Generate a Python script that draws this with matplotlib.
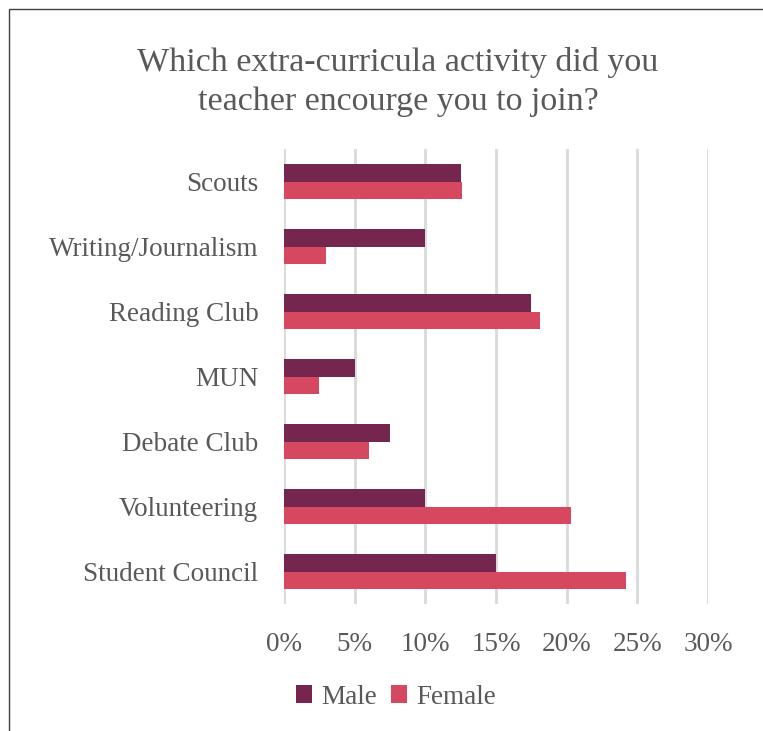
import matplotlib
matplotlib.use("Agg")
import matplotlib.pyplot as plt
import numpy as np
from matplotlib.patches import Rectangle

categories = ["Scouts", "Writing/Journalism", "Reading Club", "MUN",
              "Debate Club", "Volunteering", "Student Council"]
male = [12.5, 10.0, 17.5, 5.0, 7.5, 10.0, 15.0]
female = [12.6, 3.0, 18.1, 2.5, 6.0, 20.3, 24.2]
xticks = [0, 5, 10, 15, 20, 25, 30]
xticklabels = ["0%", "5%", "10%", "15%", "20%", "25%", "30%"]

W, H = 763, 731
fig = plt.figure(figsize=(W / 100, H / 100), dpi=100)
FONT = "Liberation Serif"
GRAY = "#595959"
c_male = "#74264F"
c_female = "#D6485F"

# chart border (right/bottom cut off)
fig.patches.append(Rectangle((9 / W, -0.1), 1.2, 1 - 9 / H + 0.1, transform=fig.transFigure,
                             fill=False, edgecolor="#404040", linewidth=1.0))

ax = fig.add_axes([284 / W, 1 - 604 / H, (708 - 284) / W, (604 - 149) / H])
n = len(categories)
y = np.arange(n)
h = 0.265
ax.barh(y - h / 2, male, height=h, color=c_male, label="Male", zorder=3)
ax.barh(y + h / 2, female, height=h, color=c_female, label="Female", zorder=3)
ax.set_ylim(n - 0.5, -0.5)
ax.set_xlim(0, 30)
ax.set_yticks(y)
ax.set_yticklabels(categories, fontfamily=FONT, fontsize=19.5, color=GRAY)
ax.set_xticks(xticks)
ax.set_xticklabels(xticklabels, fontfamily=FONT, fontsize=19.5, color=GRAY)
ax.tick_params(axis="both", length=0)
ax.tick_params(axis="y", pad=18.5)
ax.tick_params(axis="x", pad=20)
ax.grid(axis="x", color="#D9D9D9", linewidth=2.0, zorder=0)
for s in ax.spines.values():
    s.set_visible(False)

fig.text(398 / W, 1 - 63 / H, "Which extra-curricula activity did you",
         ha="center", va="center", fontfamily=FONT, fontsize=24.5, color=GRAY)
fig.text(398 / W, 1 - 102 / H, "teacher encourge you to join?",
         ha="center", va="center", fontfamily=FONT, fontsize=24.5, color=GRAY)

leg = fig.legend(loc="center", bbox_to_anchor=(396 / W, 1 - 697 / H), ncol=2, frameon=False,
                 prop={"family": FONT, "size": 19.5}, handlelength=0.6, handleheight=0.6,
                 handletextpad=0.35, columnspacing=0.5)
for t in leg.get_texts():
    t.set_color(GRAY)

fig.savefig("out.png", dpi=100)
